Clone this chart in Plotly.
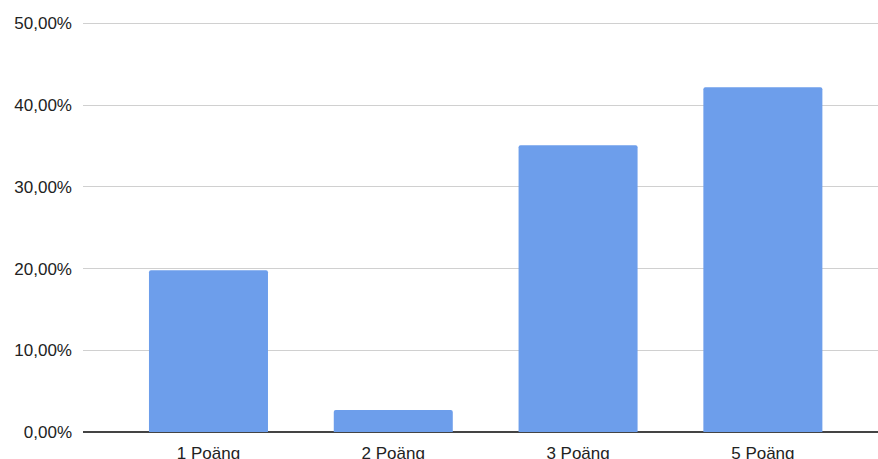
import plotly.graph_objects as go

categories = ["1 Poäng", "2 Poäng", "3 Poäng", "5 Poäng"]
values = [19.8, 2.7, 35.1, 42.2]
y_ticks = [0, 10, 20, 30, 40, 50]
y_tick_labels = ["0,00%", "10,00%", "20,00%", "30,00%", "40,00%", "50,00%"]

fig = go.Figure(
    go.Bar(
        x=[0, 1, 2, 3],
        y=values,
        width=0.644,
        marker=dict(color="#6d9eeb", line=dict(width=0), cornerradius=2),
        hoverinfo="skip",
    )
)

fig.update_layout(
    width=878,
    height=459,
    margin=dict(l=83, r=0, t=20.5, b=26.7, autoexpand=False),
    paper_bgcolor="white",
    plot_bgcolor="white",
    showlegend=False,
    font=dict(family="Liberation Sans, Arial, sans-serif", size=17, color="#222222"),
    xaxis=dict(
        range=[-0.679, 3.623],
        tickvals=[0, 1, 2, 3],
        ticktext=categories,
        showgrid=False,
        zeroline=False,
        showline=False,
        ticks="",
        ticklabelstandoff=9,
        automargin=False,
        fixedrange=True,
    ),
    yaxis=dict(
        range=[0, 50.3],
        tickvals=y_ticks,
        ticktext=y_tick_labels,
        showgrid=True,
        gridcolor="#d0d0d0",
        gridwidth=1,
        zeroline=True,
        zerolinecolor="#444444",
        zerolinewidth=1.5,
        showline=False,
        ticks="",
        ticklabelstandoff=10,
        automargin=False,
        fixedrange=True,
    ),
)

fig.write_html("out.html")
